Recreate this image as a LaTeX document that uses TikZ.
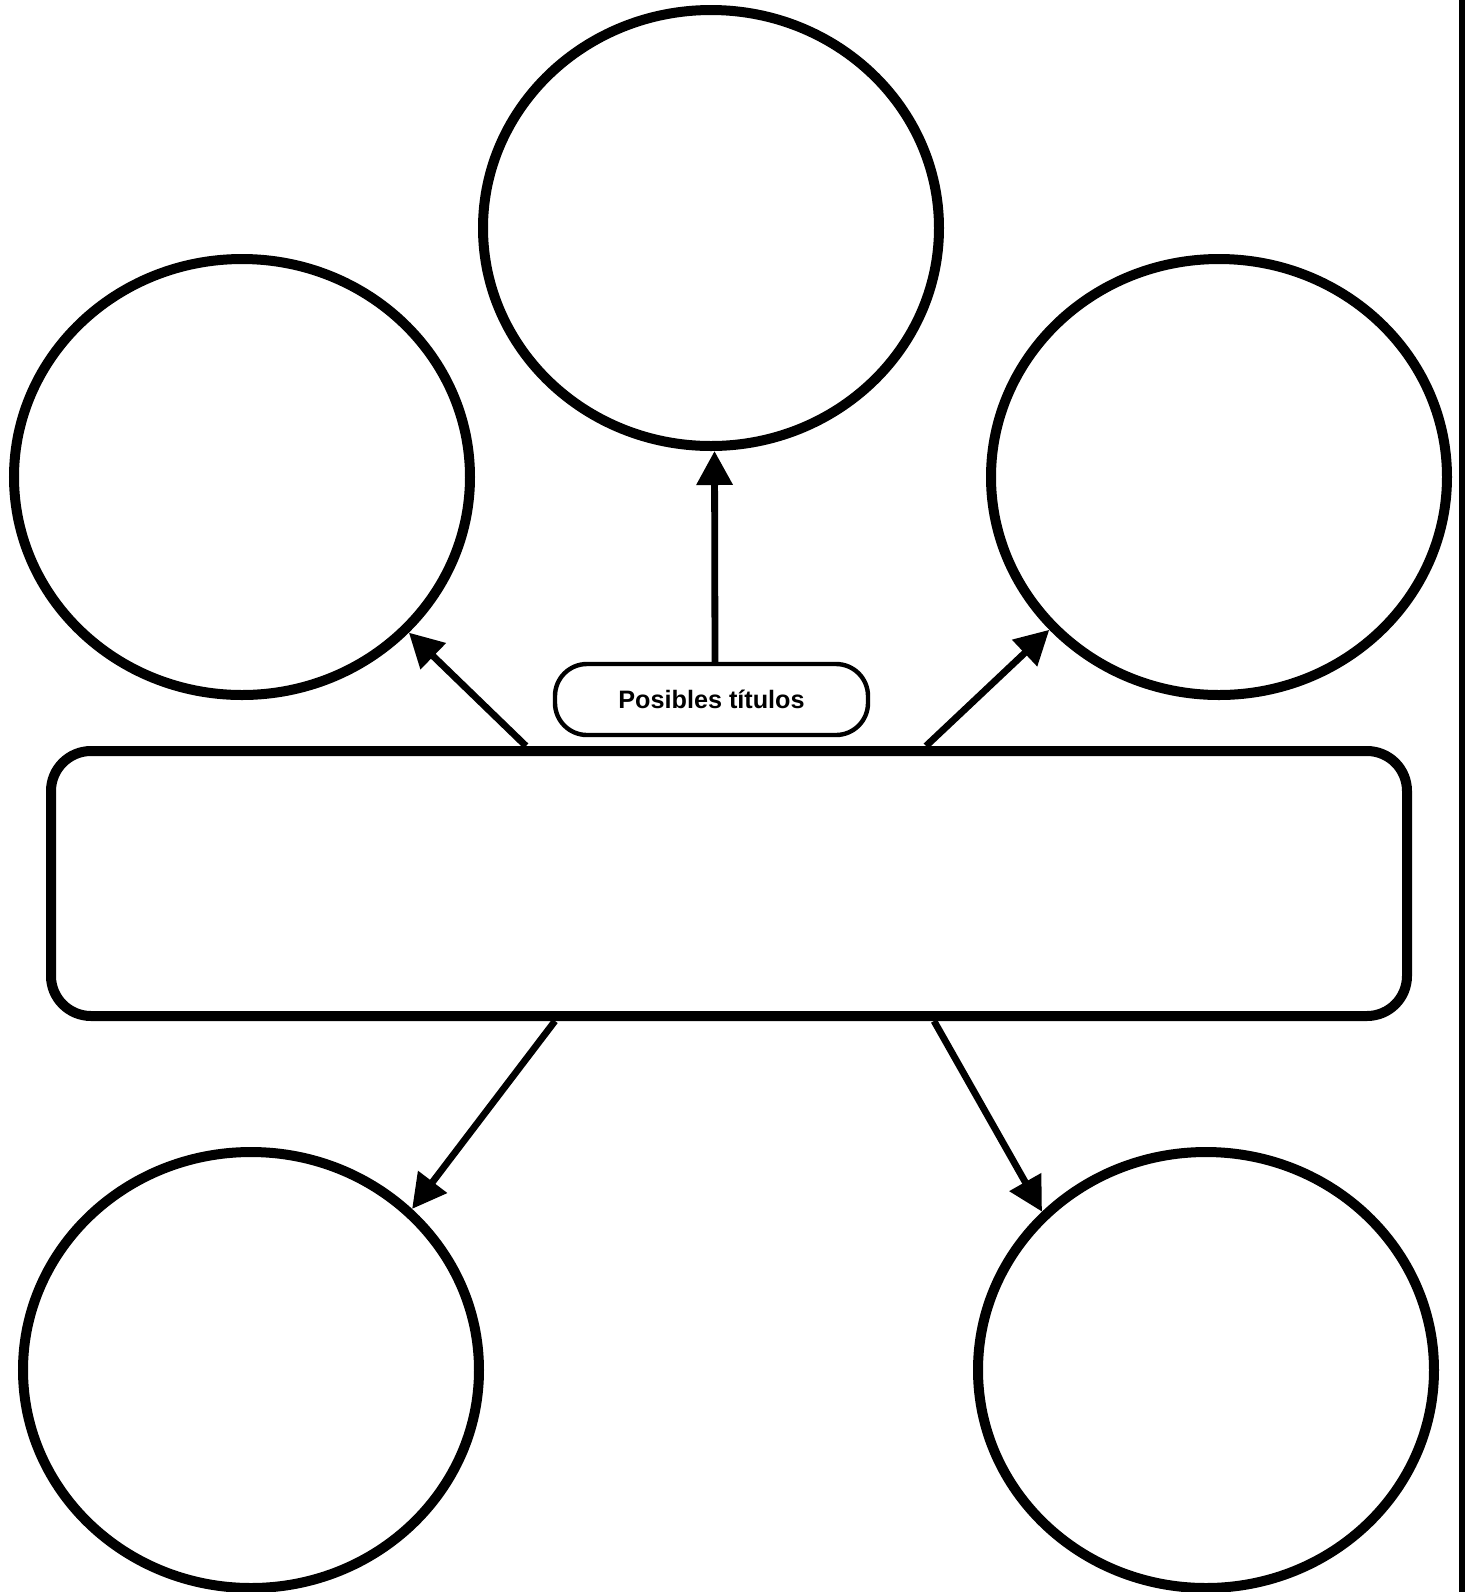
\documentclass[tikz,border=0pt]{standalone}
\usepackage{fontspec}
\setsansfont{Liberation Sans}
\usetikzlibrary{arrows.meta,shapes.geometric}

\begin{document}
\begin{tikzpicture}[
  x=0.5pt,y=-0.5pt,
  bubble/.style={draw,ellipse,line width=5pt,minimum width=228pt,minimum height=218pt,inner sep=0pt},
  panel/.style={draw,rectangle,rounded corners=20pt,line width=5pt,minimum width=678pt,minimum height=132.5pt},
  tag/.style={draw,rectangle,rounded corners=16pt,line width=2.2pt,minimum width=156.5pt,minimum height=35.5pt,font=\sffamily\bfseries\fontsize{12.6}{14}\selectfont},
  link/.style={-{Triangle[length=17pt,width=17.5pt]},line width=3.4pt}
]
  \useasboundingbox (0,0) rectangle (1465,1592);
  % five empty bubbles
  \foreach \n/\x/\y in {top/711/228,lmid/242/477,rmid/1219/477,lbot/251/1370,rbot/1206/1370}
    \node[bubble] (\n) at (\x,\y) {};
  \node[panel] (panel) at (729,883.5) {};
  \node[tag] (tag) at (711.5,699.5) {Posibles títulos};
  % links
  \draw[link] ([xshift=1.75pt]tag.north) -- ([xshift=1.75pt]top.south);
  \draw[link] ([xshift=-101.5pt]panel.north) -- (lmid.-43);
  \draw[link] ([xshift=98.5pt]panel.north) -- (rmid.-138);
  \draw[link] ([xshift=-87pt]panel.south) -- (lbot.45);
  \draw[link] ([xshift=102.5pt]panel.south) -- (rbot.136);
  % right edge
  \draw[line width=3pt] (1462,0) -- (1462,1592);
\end{tikzpicture}
\end{document}
